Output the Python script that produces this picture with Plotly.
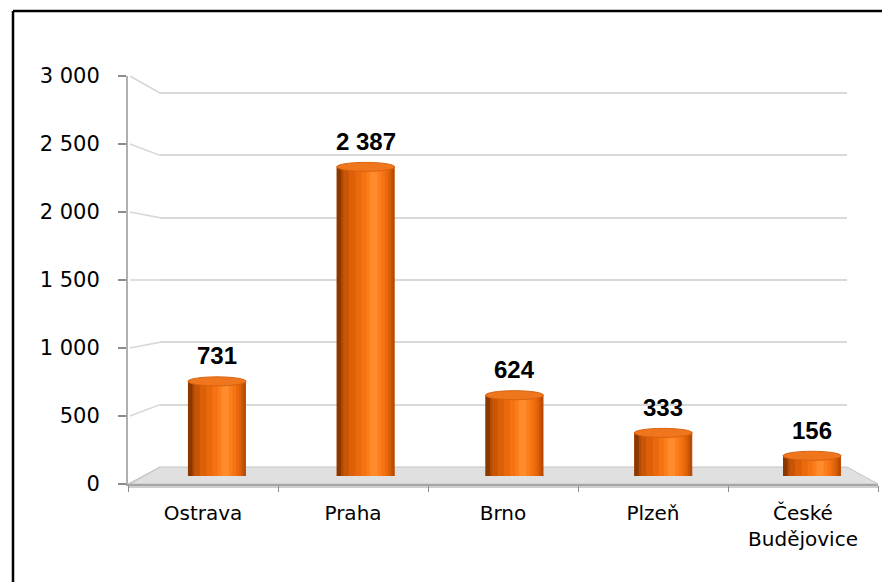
import plotly.graph_objects as go

# data
cities = ["Ostrava", "Praha", "Brno", "Plzeň", "České<br>Budějovice"]
values = [731, 2387, 624, 333, 156]
y_ticks = [0, 500, 1000, 1500, 2000, 2500, 3000]

W, H = 890, 582
OFF = 8  # page body margin


def fx(px):
    return (px - OFF) / W


def fy(py):
    return 1 - (py - OFF) / H


def ydomain(py0, py_top, lo, hi, vmax=3000):
    # paper domain so that value 0 sits at py0 and vmax at py_top, for range [lo, hi]
    k = (py0 - py_top) / vmax
    return [fy(py0 + (0 - lo) * k), fy(py0 - hi * k)]


# pixel geometry of the fake 3D box (screen pixels)
FRONT_L, FRONT_R, FRONT_Y0, FRONT_Y3000 = 128, 878, 484, 76
BACK_L, BACK_R, BACK_Y0, BACK_Y3000 = 160, 847, 467, 93
BAR_Y0, BAR_Y3000 = 476, 87.5
BAR_L, BAR_R = 142.6, 886.4
YMAX = 3000

fig = go.Figure()

# invisible helpers so the front axis and back wall subplots get drawn
fig.add_trace(go.Scatter(x=[0], y=[0], xaxis="x2", yaxis="y2", mode="markers",
                         marker=dict(opacity=0), hoverinfo="skip", showlegend=False))
fig.add_trace(go.Scatter(x=cities, y=[0] * len(cities), xaxis="x", yaxis="y", mode="markers",
                         marker=dict(opacity=0), hoverinfo="skip", showlegend=False))

# cylinder shading: overlaid strips (width, offset from centre, colour)
strips = [
    (0.39, -0.195, "#c04f04"),
    (0.36, -0.172, "#b44a03"),
    (0.33, -0.150, "#c85506"),
    (0.28, -0.115, "#db6008"),
    (0.22, -0.070, "#ea690c"),
    (0.16, -0.030, "#f57312"),
    (0.10, 0.005, "#fc7d1c"),
    (0.05, 0.030, "#ff8b2c"),
    (0.03, -0.195, "#8a3700"),
]
idx = list(range(len(values)))
for w, off, col in strips:
    fig.add_trace(go.Bar(x=idx, y=values, xaxis="x3", yaxis="y3",
                         width=w, offset=off, marker=dict(color=col, line_width=0),
                         hoverinfo="skip", showlegend=False))

shapes = []
# floor
shapes.append(dict(type="path", xref="paper", yref="paper", layer="below",
                   path=f"M {fx(FRONT_L)} {fy(FRONT_Y0)} L {fx(FRONT_R)} {fy(FRONT_Y0)} "
                        f"L {fx(BACK_R)} {fy(BACK_Y0)} L {fx(BACK_L)} {fy(BACK_Y0)} Z",
                   fillcolor="#e0e0e0", line=dict(color="#c4c4c4", width=1)))
shapes.append(dict(type="rect", xref="paper", yref="paper", layer="below",
                   x0=fx(FRONT_L), x1=fx(FRONT_R), y0=fy(FRONT_Y0 + 4), y1=fy(FRONT_Y0),
                   fillcolor="#cfcfcf", line_width=0))
# connectors from the front axis ticks to the back wall
for v in y_ticks[1:]:
    back_py = BACK_Y0 - v * (BACK_Y0 - BACK_Y3000) / YMAX
    v_front = (FRONT_Y0 - back_py) * YMAX / (FRONT_Y0 - FRONT_Y3000)
    shapes.append(dict(type="line", xref="paper", yref="y", layer="below",
                       x0=fx(FRONT_L + 2), y0=v, x1=fx(BACK_L), y1=v_front,
                       line=dict(color="#d6d6d6", width=1.5)))
shapes.append(dict(type="line", xref="paper", yref="paper", layer="below",
                   x0=fx(FRONT_L + 2), y0=fy(FRONT_Y0), x1=fx(BACK_L), y1=fy(BACK_Y0),
                   line=dict(color="#c4c4c4", width=1)))

# cylinder ends
eh = 4.5 * YMAX / (BAR_Y0 - BAR_Y3000)
for i, v in enumerate(values):
    shapes.append(dict(type="circle", xref="x3", yref="y3", layer="below",
                       x0=i - 0.195, x1=i + 0.195, y0=-eh, y1=eh,
                       fillcolor="#d05a06", line=dict(color="#b04a04", width=0.5)))
    shapes.append(dict(type="circle", xref="x3", yref="y3", layer="above",
                       x0=i - 0.195, x1=i + 0.195, y0=v - eh, y1=v + eh,
                       fillcolor="#f0761e", line=dict(color="#d8620e", width=1)))

# border of the chart area
shapes.append(dict(type="line", xref="paper", yref="paper", x0=fx(13), x1=fx(13),
                   y0=fy(11), y1=0, line=dict(color="black", width=2.5)))
shapes.append(dict(type="line", xref="paper", yref="paper", x0=fx(13), x1=1,
                   y0=fy(11), y1=fy(11), line=dict(color="black", width=2.5)))

annotations = []
for i, v in enumerate(values):
    annotations.append(dict(x=i, y=v, xref="x3", yref="y3", text=f"{v:,}".replace(",", " "),
                            showarrow=False, yanchor="bottom", yshift=10,
                            font=dict(family="Liberation Sans", size=24, color="black", weight="bold")))

fig.update_layout(
    width=W, height=H,
    margin=dict(l=0, r=0, t=0, b=0, autoexpand=False),
    paper_bgcolor="white",
    plot_bgcolor="rgba(0,0,0,0)",
    barmode="overlay",
    separators=", ",
    showlegend=False,
    font=dict(family="DejaVu Sans", color="black"),
    xaxis=dict(domain=[fx(FRONT_L), fx(FRONT_R)], anchor="y", type="category",
               range=[-0.5, len(cities) - 0.5], automargin=False,
               tickson="boundaries", ticks="outside", ticklen=6, tickcolor="#8c8c8c",
               showline=True, linecolor="#a6a6a6", linewidth=1.5, showgrid=False,
               tickfont=dict(size=20), ticklabelstandoff=10, fixedrange=True),
    yaxis=dict(domain=[fy(FRONT_Y0), fy(FRONT_Y3000)], anchor="x", range=[0, YMAX],
               automargin=False,
               tickvals=y_ticks, tickformat=",d", ticks="outside", ticklen=8,
               tickcolor="#8c8c8c", tickwidth=1.5, showline=True, linecolor="#b0b0b0",
               linewidth=2, showgrid=False, zeroline=False, tickfont=dict(size=21),
               ticklabelstandoff=14, fixedrange=True),
    xaxis2=dict(domain=[fx(BACK_L), fx(BACK_R)], anchor="y2", visible=False, range=[0, 1],
                automargin=False),
    yaxis2=dict(domain=ydomain(BACK_Y0, BACK_Y3000, -10, YMAX + 10), anchor="x2",
                range=[-10, YMAX + 10], automargin=False,
                tickvals=y_ticks[1:], showticklabels=False, ticks="", showline=False,
                showgrid=True, gridcolor="#d9d9d9", gridwidth=2, zeroline=False),
    xaxis3=dict(domain=[fx(BAR_L), fx(BAR_R)], anchor="y3", visible=False,
                range=[-0.5, len(values) - 0.5], automargin=False),
    yaxis3=dict(domain=[fy(BAR_Y0), fy(BAR_Y3000)], anchor="x3", visible=False,
                range=[0, YMAX], automargin=False),
    shapes=shapes,
    annotations=annotations,
)

fig.write_html("out.html")
